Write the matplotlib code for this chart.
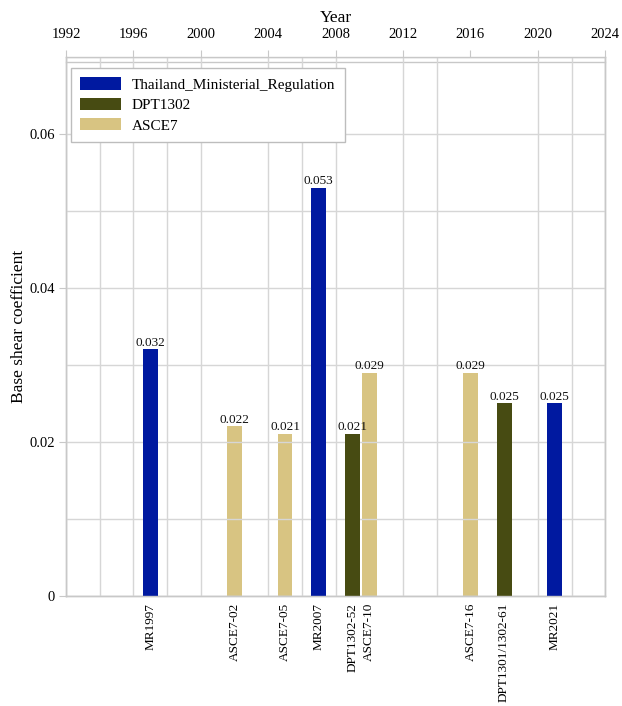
import matplotlib
matplotlib.use("Agg")
import matplotlib.pyplot as plt
from matplotlib.patches import Patch
from matplotlib.ticker import MultipleLocator, FixedLocator

plt.rcParams['font.family'] = ['Liberation Serif', 'DejaVu Serif']

# code editions, adoption year, base shear coefficient
codes = ['MR1997', 'ASCE7-02', 'ASCE7-05', 'MR2007', 'DPT1302-52',
         'ASCE7-10', 'ASCE7-16', 'DPT1301/1302-61', 'MR2021']
years = [1997, 2002, 2005, 2007, 2009, 2010, 2016, 2018, 2021]
coefs = [0.032, 0.022, 0.021, 0.053, 0.021, 0.029, 0.029, 0.025, 0.025]
source = ['Thailand_Ministerial_Regulation', 'ASCE7', 'ASCE7',
          'Thailand_Ministerial_Regulation', 'DPT1302', 'ASCE7', 'ASCE7',
          'DPT1302', 'Thailand_Ministerial_Regulation']

series = ['Thailand_Ministerial_Regulation', 'DPT1302', 'ASCE7']
colors = {'Thailand_Ministerial_Regulation': '#0019a0',
          'DPT1302': '#474b12',
          'ASCE7': '#d8c482'}

grid_c = '#d6d6d6'
spine_c = '#c8c8c8'

fig = plt.figure(figsize=(6.22, 7.06), dpi=100)
ax = fig.add_axes([0.106, 0.156, 0.867, 0.7635])
# inner frame line just under the year axis (set first: it resets the ticks)
ax.spines['top'].set_position(('outward', -4))

for x, v, s in zip(years, coefs, source):
    # ASCE bars sit under the grid, the others above it
    z = 1 if s == 'ASCE7' else 3
    ax.bar(x, v, width=0.88, color=colors[s], zorder=z, linewidth=0)
    ax.text(x, v + 0.0001, f'{v:.3f}', ha='center', va='bottom',
            fontsize=9.5, color='#111111', zorder=4)

ax.set_xlim(1992, 2024)
ax.set_ylim(0, 0.07)
ax.set_xticks(years)
ax.set_xticklabels(codes, rotation=90, fontsize=9.5)
ax.xaxis.set_minor_locator(MultipleLocator(2))
ax.tick_params(axis='x', which='both', length=0, pad=5)

ax.yaxis.set_major_locator(FixedLocator([0, 0.02, 0.04, 0.06]))
ax.set_yticklabels(['0', '0.02', '0.04', '0.06'], fontsize=10.5)
ax.yaxis.set_minor_locator(MultipleLocator(0.01))
ax.tick_params(axis='y', which='major', length=5, color=spine_c, pad=3)
ax.tick_params(axis='y', which='minor', length=0)
ax.set_axisbelow(False)
ax.grid(axis='y', which='both', color=grid_c, linewidth=1, zorder=2)
ax.grid(axis='x', which='minor', color=grid_c, linewidth=1, zorder=2)
ax.set_ylabel('Base shear coefficient', fontsize=12.5, labelpad=2)

# year axis on top
top = ax.twiny()
top.set_xlim(1992, 2024)
top.xaxis.set_major_locator(MultipleLocator(4))
top.tick_params(axis='x', which='major', length=5, color=spine_c,
                labelsize=10.5, pad=6.5)
top.set_xlabel('Year', fontsize=12.5, labelpad=4)

for a in (ax, top):
    for sp in a.spines.values():
        sp.set_color(spine_c)
        sp.set_linewidth(1)

handles = [Patch(facecolor=colors[s], label=s) for s in series]
leg = ax.legend(handles=handles, loc='upper left', bbox_to_anchor=(0.009, 0.979),
                borderaxespad=0, fontsize=11, handlelength=2.68,
                handleheight=0.85, handletextpad=0.72, fancybox=False,
                framealpha=1, edgecolor='#bdbdbd', borderpad=0.6,
                labelspacing=0.4)
leg.get_frame().set_linewidth(1)
leg.set_zorder(5)

fig.savefig('out.png', dpi=100)
